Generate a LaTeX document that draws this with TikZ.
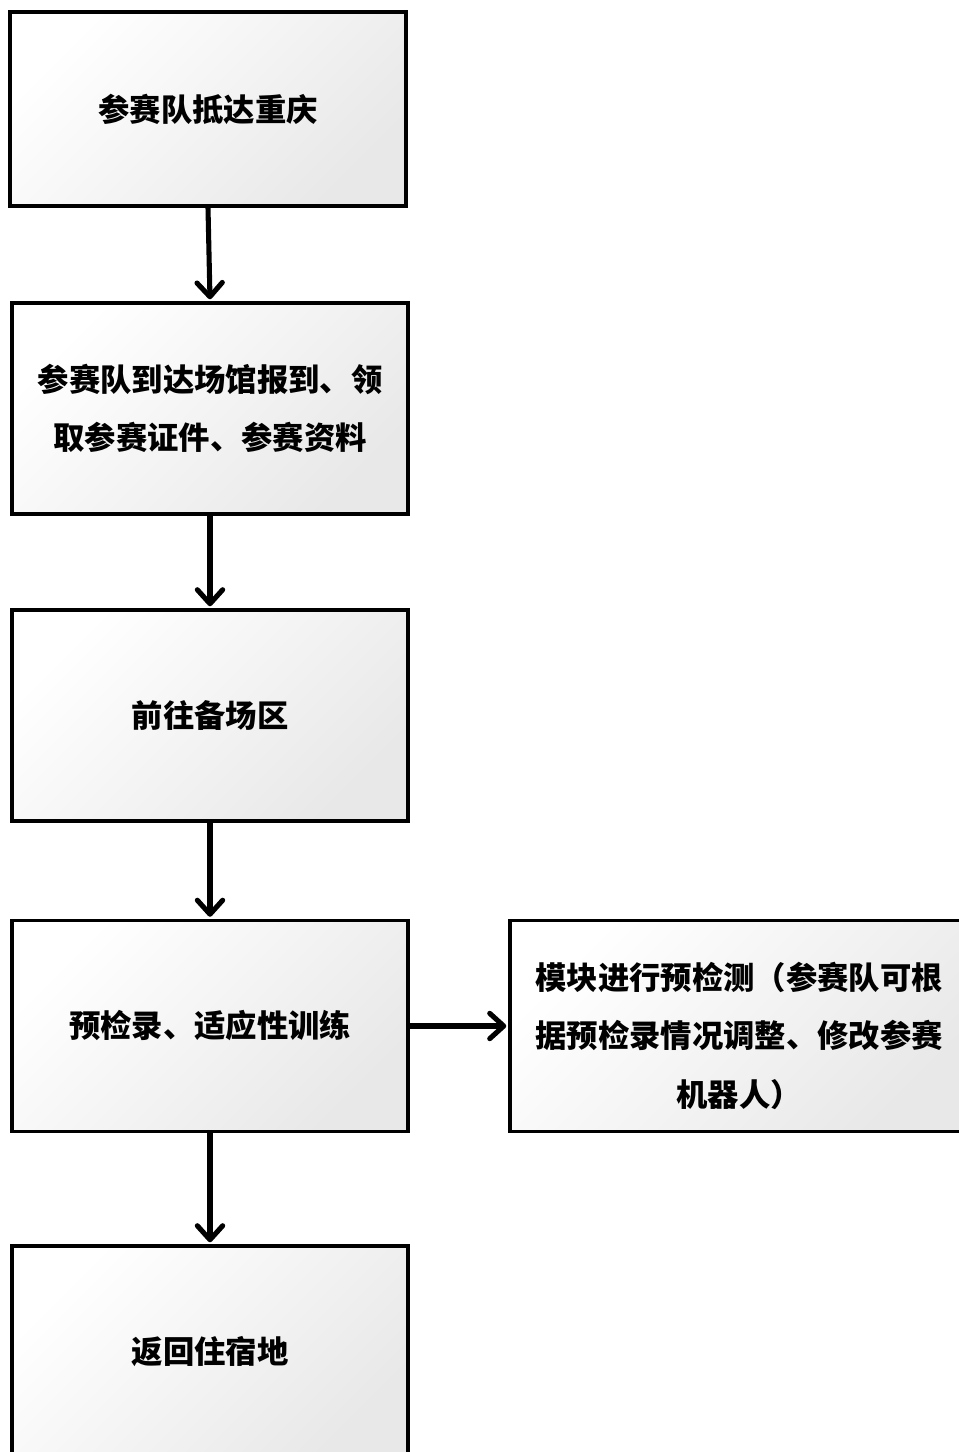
\documentclass[tikz,border=0pt]{standalone}
\usepackage{fontspec}
\newfontfamily\cjk{Noto Sans CJK SC}
\usetikzlibrary{arrows.meta}
\tikzset{
  box/.style={draw=black, line width=2.6pt, rectangle, shading=axis, top color=white, bottom color=black!9, shading angle=45,
    font=\cjk\bfseries\fontsize{23.5}{44}\selectfont, align=center, inner sep=0pt},
  flow/.style={line width=3.8pt, line cap=round, -{Straight Barb[length=10.5pt,width=19pt,round]}}
}
\begin{document}
\begin{tikzpicture}[x=0.75pt,y=-0.75pt]
\useasboundingbox (0,0) rectangle (959,1452);
\clip (0,0) rectangle (959,1452);
\node[box, minimum width=297pt, minimum height=145.5pt] (b1) at (208,109) {参赛队抵达重庆};
\node[box, minimum width=297pt, minimum height=158.25pt] (b2) at (210,408.5) {参赛队到达场馆报到、领\\取参赛证件、参赛资料};
\node[box, minimum width=297pt, minimum height=158.25pt] (b3) at (210,715.5) {前往备场区};
\node[box, minimum width=297pt, minimum height=158.25pt] (b4) at (210,1026) {预检录、适应性训练};
\node[box, minimum width=297pt, minimum height=158.25pt] (b5) at (210,1351.5) {返回住宿地};
\node[box, minimum width=343.5pt, minimum height=158.25pt] (b6) at (739,1026) {\rule{0pt}{35pt}模块进行预检测（参赛队可根\\据预检录情况调整、修改参赛\\机器人）};
\draw[flow] (b1.south) -- ([yshift=1.5pt]b2.north);
\draw[flow] (b2.south) -- ([yshift=1.5pt]b3.north);
\draw[flow] (b3.south) -- ([yshift=1.5pt]b4.north);
\draw[flow] (b4.east) -- ([xshift=-1.5pt]b6.west);
\draw[flow] (b4.south) -- ([yshift=1.5pt]b5.north);
\end{tikzpicture}
\end{document}
